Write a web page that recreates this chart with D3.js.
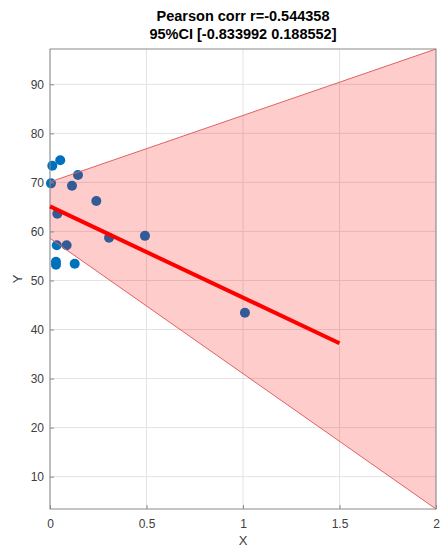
<!DOCTYPE html>
<html><head><meta charset="utf-8">
<script src="https://cdn.jsdelivr.net/npm/d3@7"></script>
<style>body{margin:0;background:#fff}svg{display:block;font-family:"Liberation Sans",Arial,sans-serif}</style>
</head><body>
<svg id="c" width="440" height="552"></svg>
<script>
const titleLines = ["Pearson corr r=-0.544358", "95%CI [-0.833992 0.188552]"];
const xLabel = "X", yLabel = "Y";
const xTicks = [0, 0.5, 1, 1.5, 2];
const yTicks = [10, 20, 30, 40, 50, 60, 70, 80, 90];
const xDomain = [0, 2], yDomain = [3.4, 97.2];
const pointsX = [0.012, 0.053, 0.005, 0.145, 0.114, 0.24, 0.038, 0.035, 0.086, 0.306, 0.492, 0.031, 0.031, 0.128, 1.01];
const pointsY = [73.4, 74.5, 69.8, 71.5, 69.3, 66.2, 63.6, 57.2, 57.2, 58.7, 59.1, 53.8, 53.2, 53.4, 43.4];
const fitX = [0, 1.5], fitY = [65.1, 37.2];
const bandUpperX = [0, 2], bandUpperY = [70.1, 97.2];
const bandLowerX = [0, 2], bandLowerY = [58.6, 3.4];

const svg = d3.select("#c");
const m = {l: 50, r: 436, t: 49, b: 509};
const x = d3.scaleLinear().domain(xDomain).range([m.l, m.r]);
const y = d3.scaleLinear().domain(yDomain).range([m.b, m.t]);

// grid
svg.append("g").selectAll("line").data(xTicks).join("line")
  .attr("x1", d => x(d)).attr("x2", d => x(d)).attr("y1", m.t).attr("y2", m.b)
  .attr("stroke", "#e3e3e3").attr("stroke-width", 1);
svg.append("g").selectAll("line").data(yTicks).join("line")
  .attr("y1", d => y(d)).attr("y2", d => y(d)).attr("x1", m.l).attr("x2", m.r)
  .attr("stroke", "#e3e3e3").attr("stroke-width", 1);

// points (drawn under the translucent band)
svg.append("g").selectAll("circle").data(pointsX).join("circle")
  .attr("cx", d => x(d)).attr("cy", (d, i) => y(pointsY[i])).attr("r", 5)
  .attr("fill", "#0072BD");

// band
const line = d3.line();
const poly = bandUpperX.map((v, i) => [x(v), y(bandUpperY[i])])
  .concat(bandLowerX.map((v, i) => [x(v), y(bandLowerY[i])]).reverse());
svg.append("path").attr("d", "M" + poly.join("L") + "Z")
  .attr("fill", "rgba(255,0,0,0.2)").attr("stroke", "none");
svg.append("path").attr("d", line(bandUpperX.map((v, i) => [x(v), y(bandUpperY[i])])))
  .attr("stroke", "#e06060").attr("stroke-width", 1).attr("fill", "none");
svg.append("path").attr("d", line(bandLowerX.map((v, i) => [x(v), y(bandLowerY[i])])))
  .attr("stroke", "#e06060").attr("stroke-width", 1).attr("fill", "none");

// axes
const xAxis = d3.axisBottom(x).tickValues(xTicks).tickFormat(d3.format("")).tickSize(-4).tickPadding(10);
const yAxis = d3.axisLeft(y).tickValues(yTicks).tickSize(-4).tickPadding(6);
const gx = svg.append("g").attr("transform", `translate(0,${m.b})`).call(xAxis);
const gy = svg.append("g").attr("transform", `translate(${m.l},0)`).call(yAxis);
[gx, gy].forEach(g => {
  g.select(".domain").remove();
  g.selectAll("line").attr("stroke", "#8a8a8a");
  g.selectAll("text").attr("fill", "#404040").attr("font-size", 12).attr("font-family", "Liberation Sans, Arial, sans-serif");
});
// box
svg.append("rect").attr("x", m.l).attr("y", m.t).attr("width", m.r - m.l).attr("height", m.b - m.t)
  .attr("fill", "none").attr("stroke", "#8a8a8a").attr("stroke-width", 1);

// fit line
svg.append("path").attr("d", line(fitX.map((v, i) => [x(v), y(fitY[i])])))
  .attr("stroke", "#ff0000").attr("stroke-width", 4).attr("fill", "none");

// title
svg.append("g").selectAll("text").data(titleLines).join("text")
  .attr("x", (m.l + m.r) / 2).attr("y", (d, i) => 21 + i * 18)
  .attr("text-anchor", "middle").attr("font-weight", "bold").attr("font-size", 14.5)
  .attr("fill", "#000").text(d => d);

svg.append("text").attr("x", (m.l + m.r) / 2).attr("y", 545).attr("text-anchor", "middle")
  .attr("font-size", 13).attr("fill", "#404040").text(xLabel);
svg.append("text").attr("transform", `translate(22,${(m.t + m.b) / 2}) rotate(-90)`)
  .attr("text-anchor", "middle").attr("font-size", 13).attr("fill", "#404040").text(yLabel);
</script>
</body></html>
